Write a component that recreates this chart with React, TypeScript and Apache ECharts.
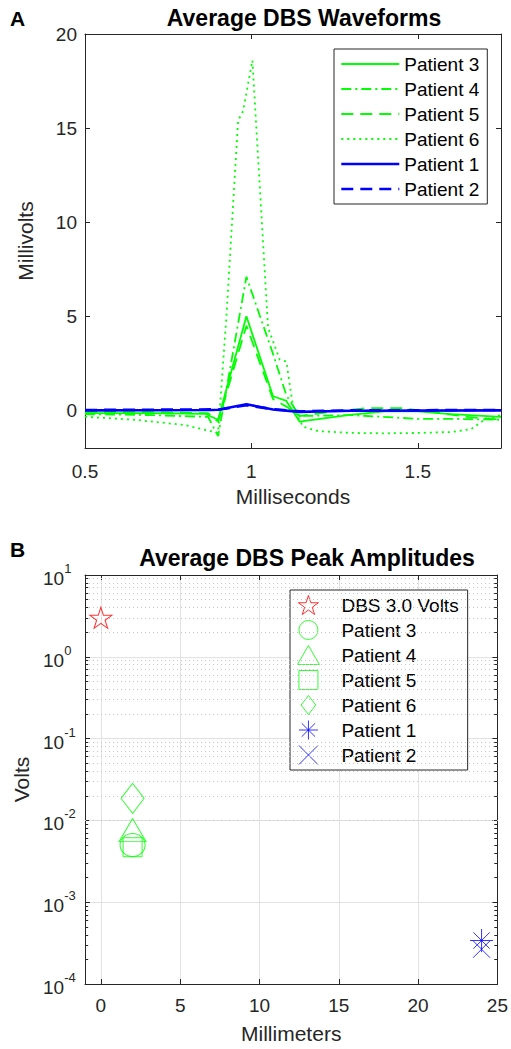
import React, { useEffect, useRef } from 'react';
import * as echarts from 'echarts';

const FONT = "'Liberation Sans', Arial, Helvetica, sans-serif";
const AX = '#262626';
const GREEN = '#00ff00';
const BLUE = '#0000ff';
const RED = '#ff0000';

// ---------- Panel A: waveform data (ms, mV) ----------
const p3T = [0.5, 0.7, 0.86, 0.9, 0.985, 1.065, 1.105, 1.145, 1.29, 1.4, 1.5, 1.6, 1.75];
const p3V = [-0.15, -0.15, -0.18, -0.5, 5.0, 0.75, 0.5, -0.6, -0.25, -0.05, -0.05, -0.2, -0.35];

const p4T = [0.5, 0.7, 0.87, 0.9, 0.985, 1.065, 1.105, 1.145, 1.3, 1.5, 1.6, 1.75];
const p4V = [-0.2, -0.25, -0.35, -1.37, 7.1, 3.0, 0.8, -0.3, -0.25, -0.45, -0.45, -0.5];

const p5T = [0.5, 0.7, 0.87, 0.9, 0.985, 1.065, 1.105, 1.145, 1.25, 1.35, 1.45, 1.55, 1.65, 1.75];
const p5V = [-0.1, -0.1, -0.15, -0.6, 4.5, 0.6, 0.2, -0.3, -0.05, 0.12, 0.12, -0.1, -0.35, -0.5];

const p6T = [0.5, 0.65, 0.8, 0.9, 0.925, 0.96, 0.975, 1.003, 1.05, 1.085, 1.105, 1.125, 1.155, 1.2, 1.3, 1.4, 1.5, 1.6, 1.66, 1.7, 1.75];
const p6V = [-0.34, -0.5, -0.78, -1.2, 5.0, 15.4, 15.9, 18.6, 4.4, 2.7, 2.6, 0.2, -0.87, -1.1, -1.2, -1.22, -1.2, -1.15, -1.0, -0.5, -0.25];

const p1T = [0.5, 0.88, 0.9, 0.985, 1.065, 1.145, 1.3, 1.75];
const p1V = [0.0, 0.02, 0.03, 0.32, 0.05, -0.08, -0.02, 0.0];

const p2T = [0.5, 0.88, 0.9, 0.985, 1.065, 1.145, 1.3, 1.75];
const p2V = [0.02, 0.05, 0.03, 0.27, 0.06, -0.05, 0.0, 0.02];

const waveNames = ['Patient 3', 'Patient 4', 'Patient 5', 'Patient 6', 'Patient 1', 'Patient 2'];

// ---------- Panel B: peak amplitudes (mm, V) ----------
const peakNames = ['DBS 3.0 Volts', 'Patient 3', 'Patient 4', 'Patient 5', 'Patient 6', 'Patient 1', 'Patient 2'];
const peakX = [0, 2, 2, 2, 2, 24, 24];
const peakY = [3.0, 0.005, 0.0076, 0.0047, 0.0186, 0.00034, 0.000266];

const zip = (t: number[], v: number[]) => t.map((x, i) => [x, v[i]]);

// symbols
const STAR = 'path://M0,-100L22.5,-30.9L95.1,-30.9L36.3,11.8L58.8,80.9L0,38.2L-58.8,80.9L-36.3,11.8L-95.1,-30.9L-22.5,-30.9Z';
const CIRCLE = 'path://M0,-100A100,100,0,1,1,0,100A100,100,0,1,1,0,-100Z';
const TRI = 'path://M0,-100L115,100L-115,100Z';
const SQUARE = 'path://M-100,-100L100,-100L100,100L-100,100Z';
const DIAMOND = 'path://M0,-130L100,0L0,130L-100,0Z';
const ASTER = 'path://M0,-100L0,100M-100,0L100,0M-70.7,-70.7L70.7,70.7M-70.7,70.7L70.7,-70.7';
const XMARK = 'path://M-100,-100L100,100M-100,100L100,-100';

const peakSymbols = [STAR, CIRCLE, TRI, SQUARE, DIAMOND, ASTER, XMARK];
const peakSizes = [[22, 21], [25, 23], [27, 23], [19, 19], [23, 30], [23, 23], [17, 17]];
const peakColors = [RED, GREEN, GREEN, GREEN, GREEN, BLUE, BLUE];

const minorVals: number[] = [];
for (let k = -4; k <= 0; k++) for (let m = 2; m <= 9; m++) minorVals.push(m * Math.pow(10, k));

function axisLineStyle() {
  return { show: true, onZero: false, lineStyle: { color: AX, width: 1 } };
}
function tickStyle(len = 5) {
  return { show: true, inside: true, length: len, lineStyle: { color: AX, width: 1 } };
}

function optionA(): any {
  const lineSeries = (name: string, t: number[], v: number[], color: string, width: number, type: any) => ({
    name,
    type: 'line',
    data: zip(t, v),
    symbol: 'none',
    showSymbol: false,
    lineStyle: { color, width, type },
    itemStyle: { color },
    xAxisIndex: 0,
    yAxisIndex: 0,
    emphasis: { disabled: true },
  });
  return {
    animation: false,
    textStyle: { fontFamily: FONT },
    grid: { left: 85, top: 34, width: 416, height: 414 },
    xAxis: [
      {
        type: 'value', min: 0.5, max: 1.75, interval: 0.5, position: 'bottom',
        name: 'Milliseconds', nameLocation: 'middle', nameGap: 38,
        nameTextStyle: { fontSize: 21, color: AX, fontFamily: FONT },
        axisLine: axisLineStyle(), axisTick: tickStyle(),
        axisLabel: {
          color: AX, fontSize: 19, margin: 14, fontFamily: FONT,
          formatter: (v: number) => (Math.abs(v * 2 - Math.round(v * 2)) < 1e-6 ? String(+v.toFixed(2)) : ''),
        },
        splitLine: { show: false },
      },
      {
        type: 'value', min: 0.5, max: 1.75, interval: 0.5, position: 'top',
        axisLine: axisLineStyle(), axisTick: tickStyle(), axisLabel: { show: false }, splitLine: { show: false },
      },
    ],
    yAxis: [
      {
        type: 'value', min: -2, max: 20, position: 'left',
        name: 'Millivolts', nameLocation: 'middle', nameGap: 49,
        nameTextStyle: { fontSize: 21, color: AX, fontFamily: FONT },
        axisLine: axisLineStyle(), axisTick: tickStyle(),
        axisLabel: {
          color: AX, fontSize: 19, margin: 8, fontFamily: FONT,
          formatter: (v: number) => (Math.abs(v % 5) < 1e-9 ? String(v) : ''),
        },
        splitLine: { show: false },
      },
      {
        type: 'value', min: -2, max: 20, position: 'right',
        axisLine: axisLineStyle(), axisTick: tickStyle(), axisLabel: { show: false }, splitLine: { show: false },
      },
    ],
    legend: {
      data: waveNames, orient: 'vertical', left: 334, top: 49,
      itemWidth: 58, itemHeight: 12, itemGap: 5,
      padding: [5, 8, 5, 6], borderColor: AX, borderWidth: 1, borderRadius: 0, backgroundColor: '#fff',
      textStyle: { fontSize: 19, color: '#000', fontFamily: FONT, lineHeight: 20 },
      lineStyle: { width: 'inherit' },
      itemStyle: { color: 'rgba(0,0,0,0)', borderWidth: 0, borderColor: 'rgba(0,0,0,0)', opacity: 0 },
      selectedMode: false,
    },
    series: [
      lineSeries('Patient 3', p3T, p3V, GREEN, 1.8, 'solid'),
      lineSeries('Patient 4', p4T, p4V, GREEN, 1.8, [10, 4, 2, 4]),
      lineSeries('Patient 5', p5T, p5V, GREEN, 1.8, [12, 7]),
      lineSeries('Patient 6', p6T, p6V, GREEN, 1.8, [2, 4]),
      lineSeries('Patient 1', p1T, p1V, BLUE, 2.6, 'solid'),
      lineSeries('Patient 2', p2T, p2V, BLUE, 2.6, [12, 7]),
    ],
    graphic: [
      {
        type: 'text', x: 10, y: 18,
        style: { text: 'A', fontSize: 21, fontWeight: 'bold', fontFamily: FONT, fill: '#000', verticalAlign: 'middle', textVerticalAlign: 'middle' },
      },
      {
        type: 'text', x: 304, y: 18,
        style: {
          text: 'Average DBS Waveforms', fontSize: 23, fontWeight: 'bold', fontFamily: FONT, fill: '#000',
          align: 'center', textAlign: 'center', verticalAlign: 'middle', textVerticalAlign: 'middle',
        },
      },
    ],
  };
}

function optionB(): any {
  const logLabel = (v: number) => {
    const e = Math.round(Math.log10(v));
    return `{b|10}{s|${e}}`;
  };
  const scatterSeries = peakNames.map((name, i) => ({
    name,
    type: 'scatter',
    data: [[peakX[i], peakY[i]]],
    symbol: peakSymbols[i],
    symbolSize: peakSizes[i],
    itemStyle: { color: 'rgba(0,0,0,0)', borderColor: peakColors[i], borderWidth: 1 },
    xAxisIndex: 0,
    yAxisIndex: 0,
    emphasis: { disabled: true },
    z: 5,
  }));
  const helper = (data: any[], lineStyle: any) => ({
    type: 'line',
    data: [],
    xAxisIndex: 0,
    yAxisIndex: 0,
    silent: true,
    z: 1,
    markLine: {
      silent: true, symbol: ['none', 'none'], label: { show: false }, lineStyle,
      emphasis: { disabled: true }, animation: false, data,
    },
  });
  return {
    animation: false,
    textStyle: { fontFamily: FONT },
    grid: { left: 85, top: 55, width: 416, height: 414 },
    xAxis: [
      {
        type: 'value', min: -1, max: 25, position: 'bottom',
        name: 'Millimeters', nameLocation: 'middle', nameGap: 39,
        nameTextStyle: { fontSize: 21, color: AX, fontFamily: FONT },
        axisLine: axisLineStyle(), axisTick: tickStyle(),
        axisLabel: {
          color: AX, fontSize: 19, margin: 12, fontFamily: FONT,
          formatter: (v: number) => (Math.abs(v % 5) < 1e-9 ? String(v) : ''),
        },
        splitLine: { show: true, lineStyle: { color: '#e2e2e2', width: 1 } },
      },
      {
        type: 'value', min: -1, max: 25, position: 'top',
        axisLine: axisLineStyle(), axisTick: tickStyle(), axisLabel: { show: false }, splitLine: { show: false },
      },
    ],
    yAxis: [
      {
        type: 'log', logBase: 10, min: 0.0001, max: 10, splitNumber: 5, position: 'left',
        name: 'Volts', nameLocation: 'middle', nameGap: 47,
        nameTextStyle: { fontSize: 21, color: AX, fontFamily: FONT },
        axisLine: axisLineStyle(), axisTick: tickStyle(),
        axisLabel: {
          formatter: logLabel, align: 'left', margin: 42,
          rich: {
            b: { fontSize: 19, color: AX, fontFamily: FONT, lineHeight: 26, verticalAlign: 'bottom' },
            s: { fontSize: 13, color: AX, fontFamily: FONT, lineHeight: 13, verticalAlign: 'top' },
          },
        },
        splitLine: { show: true, lineStyle: { color: '#e2e2e2', width: 1 } },
      },
      {
        type: 'log', logBase: 10, min: 0.0001, max: 10, splitNumber: 5, position: 'right',
        axisLine: axisLineStyle(), axisTick: tickStyle(), axisLabel: { show: false }, splitLine: { show: false },
      },
    ],
    legend: {
      data: peakNames, orient: 'vertical', left: 290, top: 70,
      itemWidth: 56, itemHeight: 19, itemGap: 5,
      padding: [5, 9, 5, 7], borderColor: AX, borderWidth: 1, borderRadius: 0, backgroundColor: '#fff',
      textStyle: { fontSize: 19, color: '#000', fontFamily: FONT, lineHeight: 20 },
      itemStyle: { borderWidth: 1 },
      symbolKeepAspect: true,
      selectedMode: false,
    },
    series: [
      helper(minorVals.map((v) => ({ yAxis: v })), { color: '#c6c6c6', type: [1, 3], width: 1 }),
      helper(
        minorVals.map((v) => [{ coord: [-1, v] }, { coord: [-0.8, v] }]).concat(
          minorVals.map((v) => [{ coord: [24.8, v] }, { coord: [25, v] }])
        ),
        { color: AX, type: 'solid', width: 1 }
      ),
      ...scatterSeries,
    ],
    graphic: [
      {
        type: 'text', x: 10, y: 29,
        style: { text: 'B', fontSize: 21, fontWeight: 'bold', fontFamily: FONT, fill: '#000', verticalAlign: 'middle', textVerticalAlign: 'middle' },
      },
      {
        type: 'text', x: 307, y: 38,
        style: {
          text: 'Average DBS Peak Amplitudes', fontSize: 23, fontWeight: 'bold', fontFamily: FONT, fill: '#000',
          align: 'center', textAlign: 'center', verticalAlign: 'middle', textVerticalAlign: 'middle',
        },
      },
    ],
  };
}

export default function App() {
  const refA = useRef<HTMLDivElement>(null);
  const refB = useRef<HTMLDivElement>(null);
  useEffect(() => {
    const a = echarts.init(refA.current as HTMLDivElement, null, { renderer: 'svg' });
    a.setOption(optionA());
    const b = echarts.init(refB.current as HTMLDivElement, null, { renderer: 'svg' });
    b.setOption(optionB());
    return () => {
      a.dispose();
      b.dispose();
    };
  }, []);
  return (
    <div style={{ position: 'absolute', left: 0, top: 0, width: 511, height: 1049, background: '#fff' }}>
      <div ref={refA} style={{ position: 'absolute', left: 0, top: 0, width: 511, height: 520 }} />
      <div ref={refB} style={{ position: 'absolute', left: 0, top: 520, width: 511, height: 529 }} />
    </div>
  );
}
